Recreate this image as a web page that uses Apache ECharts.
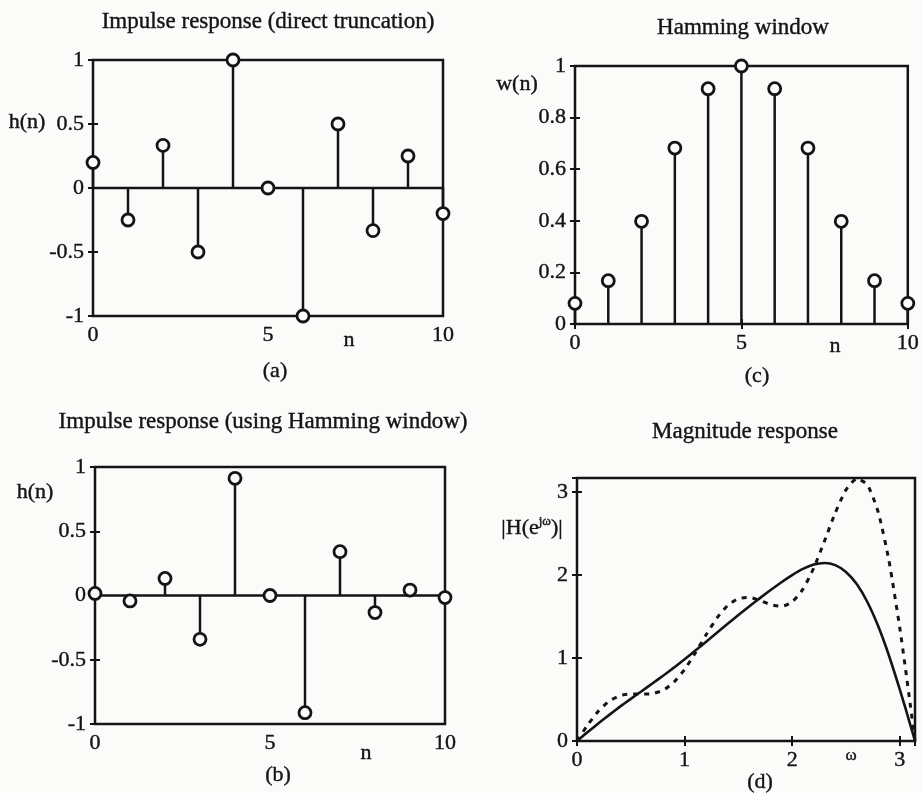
<!DOCTYPE html>
<html>
<head>
<meta charset="utf-8">
<script src="https://cdn.jsdelivr.net/npm/echarts@6/dist/echarts.min.js"></script>
<style>
html,body{margin:0;padding:0;background:#fbfbfa;}
#chart{width:922px;height:793px;}
</style>
</head>
<body>
<div id="chart"></div>
<script>
// ---- data ----
const n = [0, 1, 2, 3, 4, 5, 6, 7, 8, 9, 10];
const hTrunc = [0.2, -0.25, 0.333, -0.5, 1, 0, -1, 0.5, -0.333, 0.25, -0.2];
const wHamming = [0.08, 0.168, 0.398, 0.682, 0.912, 1, 0.912, 0.682, 0.398, 0.168, 0.08];
const hHamming = [0.016, -0.042, 0.133, -0.341, 0.912, 0, -0.912, 0.341, -0.133, 0.042, -0.016];
const omega = [0, 0.1, 0.2, 0.3, 0.4, 0.5, 0.6, 0.7, 0.8, 0.9, 1.0, 1.1, 1.2, 1.3, 1.4, 1.5, 1.6,
  1.7, 1.8, 1.9, 2.0, 2.1, 2.2, 2.3, 2.4, 2.5, 2.6, 2.7, 2.8, 2.9, 3.0, 3.05, 3.1, 3.1416];
const magRect = [0, 0.195, 0.362, 0.482, 0.547, 0.567, 0.565, 0.571, 0.612, 0.708, 0.863, 1.062,
  1.280, 1.481, 1.633, 1.717, 1.731, 1.694, 1.643, 1.623, 1.677, 1.830, 2.084, 2.409, 2.749,
  3.027, 3.162, 3.086, 2.757, 2.171, 1.365, 0.901, 0.415, 0];
const magHam = [0, 0.108, 0.213, 0.315, 0.414, 0.508, 0.600, 0.693, 0.787, 0.884, 0.985, 1.090,
  1.197, 1.305, 1.412, 1.518, 1.621, 1.722, 1.820, 1.914, 2.000, 2.074, 2.126, 2.145, 2.120,
  2.038, 1.891, 1.672, 1.382, 1.028, 0.623, 0.407, 0.186, 0];
const yTicksH = ['-1', '-0.5', '0', '0.5', '1'];
const yTicksW = ['0', '0.2', '0.4', '0.6', '0.8', '1'];
const xTicksN = ['0', '5', '10'];
const yTicksM = ['0', '1', '2', '3'];

const ink = '#141414';
const paper = '#fbfbfa';
const font = '"Liberation Serif", "Times New Roman", serif';
const fs = 22;
const tfs = 23;

const chart = echarts.init(document.getElementById('chart'));

const grids = [
  {left: 93, top: 60, width: 350, height: 256},   // (a)
  {left: 575, top: 66, width: 338, height: 258},  // (c)
  {left: 95, top: 467, width: 350, height: 257},  // (b)
  {left: 577, top: 478, width: 338, height: 263}  // (d)
].map(g => Object.assign({show: true, borderColor: ink, borderWidth: 2.5, backgroundColor: 'transparent'}, g));

function pairs(xs, ys) { return xs.map((x, i) => [x, ys[i]]); }

const labelStyle = {color: ink, fontFamily: font, fontSize: fs, textBorderColor: ink, textBorderWidth: 0.4};

function xAx(gi, min, max, interval, show, pos) {
  return {
    type: 'value', gridIndex: gi, min, max, interval, position: pos,
    axisLine: {show: false},
    axisTick: {show: true, inside: true, length: 5, lineStyle: {color: ink, width: 2}},
    splitLine: {show: false},
    axisLabel: Object.assign({show: show, margin: 8,
      formatter: v => (Math.abs(v - Math.round(v)) < 1e-9 ? String(Math.round(v)) : '')}, labelStyle)
  };
}
function yAx(gi, min, max, interval, show, pos, labels) {
  return {
    type: 'value', gridIndex: gi, min, max, interval, position: pos,
    axisLine: {show: false},
    axisTick: {show: true, inside: true, length: 5, lineStyle: {color: ink, width: 2}},
    splitLine: {show: false},
    axisLabel: Object.assign({show: show, margin: 9,
      formatter: v => {
        const s = labels.find(l => Math.abs(parseFloat(l) - v) < 1e-9);
        return s === undefined ? '' : s;
      }}, labelStyle)
  };
}

const xAxes = [
  xAx(0, 0, 10, 5, true, 'bottom'), xAx(0, 0, 10, 5, false, 'top'),
  xAx(1, 0, 10, 5, true, 'bottom'), xAx(1, 0, 10, 5, false, 'top'),
  xAx(2, 0, 10, 5, true, 'bottom'), xAx(2, 0, 10, 5, false, 'top'),
  xAx(3, 0, 3.1416, 1, true, 'bottom'), xAx(3, 0, 3.1416, 1, false, 'top')
];
const yAxes = [
  yAx(0, -1, 1, 0.5, true, 'left', yTicksH), yAx(0, -1, 1, 0.5, false, 'right', yTicksH),
  yAx(1, 0, 1, 0.2, true, 'left', yTicksW), yAx(1, 0, 1, 0.2, false, 'right', yTicksW),
  yAx(2, -1, 1, 0.5, true, 'left', yTicksH), yAx(2, -1, 1, 0.5, false, 'right', yTicksH),
  yAx(3, 0, 3.17, 1, true, 'left', yTicksM), yAx(3, 0, 3.17, 1, false, 'right', yTicksM)
];
[0, 2, 4].forEach(i => { xAxes[i].axisLabel.formatter = v => (xTicksN.indexOf(String(v)) >= 0 ? String(v) : ''); });

function stemSeries(axisIdx, ys, baseline) {
  const data = pairs(n, ys);
  const out = [{
    type: 'custom', xAxisIndex: axisIdx, yAxisIndex: axisIdx, data, clip: false, z: 3,
    renderItem: (params, api) => {
      const p0 = api.coord([api.value(0), 0]);
      const p1 = api.coord([api.value(0), api.value(1)]);
      return {type: 'line', shape: {x1: p0[0], y1: p0[1], x2: p1[0], y2: p1[1]},
        style: {stroke: ink, lineWidth: 2.5}};
    }
  }, {
    type: 'scatter', xAxisIndex: axisIdx, yAxisIndex: axisIdx, data, clip: false, z: 5,
    symbol: 'circle', symbolSize: 12,
    itemStyle: {color: paper, borderColor: ink, borderWidth: 2.8, opacity: 1}
  }];
  if (baseline) {
    out.push({
      type: 'line', xAxisIndex: axisIdx, yAxisIndex: axisIdx, data: [[0, 0], [10, 0]],
      showSymbol: false, symbol: 'none', z: 2, lineStyle: {color: ink, width: 2.5}
    });
  }
  return out;
}

const series = [].concat(
  stemSeries(0, hTrunc, true),
  stemSeries(2, wHamming, false),
  stemSeries(4, hHamming, true),
  [{
    type: 'line', xAxisIndex: 6, yAxisIndex: 6, data: pairs(omega, magRect), showSymbol: false,
    smooth: 0.2, clip: false, z: 3, lineStyle: {color: ink, width: 3, type: [5, 6]}
  }, {
    type: 'line', xAxisIndex: 6, yAxisIndex: 6, data: pairs(omega, magHam), showSymbol: false,
    smooth: 0.2, clip: false, z: 4, lineStyle: {color: ink, width: 2.6}
  }]
);

const tx = (x, y, text, size, extra) => ({type: 'text', x, y, silent: true,
  style: Object.assign({text, fill: ink, font: (size || fs) + 'px ' + font, align: 'center', verticalAlign: 'middle',
    stroke: ink, lineWidth: 0.4}, extra || {})});

const graphic = [
  tx(268, 22, 'Impulse response (direct truncation)', tfs),
  tx(743, 28, 'Hamming window', tfs),
  tx(263, 422, 'Impulse response (using Hamming window)', tfs),
  tx(745, 432, 'Magnitude response', tfs),
  tx(275, 371, '(a)'),
  tx(757, 376, '(c)'),
  tx(278, 775, '(b)'),
  tx(760, 782, '(d)'),
  tx(349, 340, 'n'),
  tx(835, 346, 'n'),
  tx(366, 753, 'n'),
  tx(851, 756, 'ω', 17),
  tx(27, 122, 'h(n)'),
  tx(35, 492, 'h(n)'),
  tx(517, 84, 'w(n)'),
  {type: 'text', x: 532, y: 528, silent: true,
    style: {text: '|H(e{s|jω})|', fill: ink, font: fs + 'px ' + font, align: 'center', verticalAlign: 'middle',
      stroke: ink, lineWidth: 0.4,
      rich: {s: {fontSize: 13, fontFamily: font, verticalAlign: 'top', padding: [0, 0, 12, 0]}}}}
];

chart.setOption({
  backgroundColor: paper,
  animation: false,
  grid: grids,
  xAxis: xAxes,
  yAxis: yAxes,
  series,
  graphic
});
</script>
</body>
</html>
